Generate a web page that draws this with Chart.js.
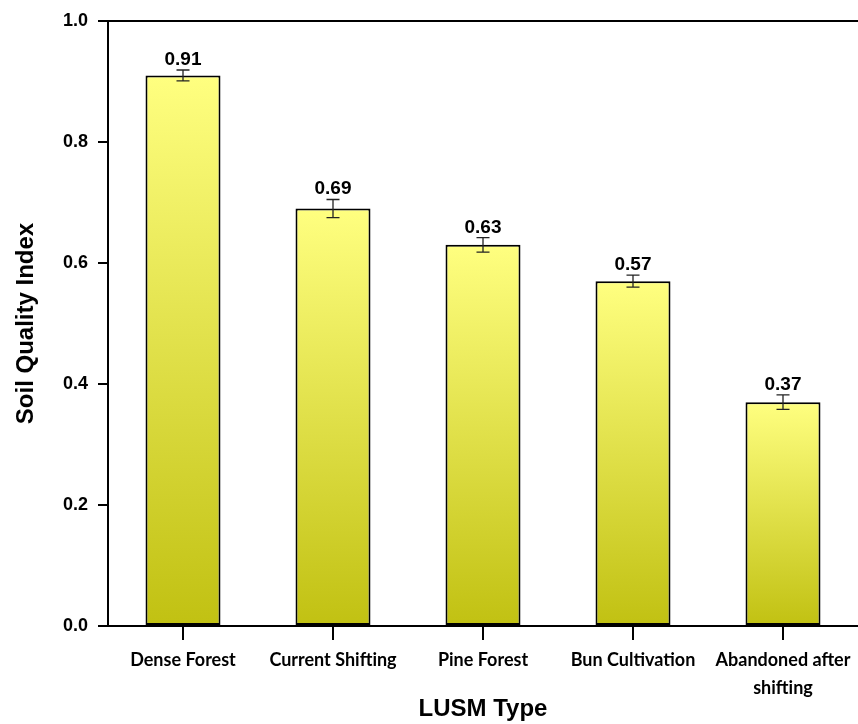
<!DOCTYPE html>
<html>
<head>
<meta charset="utf-8">
<script src="https://cdn.jsdelivr.net/npm/chart.js@4"></script>
<style>
html,body{margin:0;padding:0;background:#fff;}
#wrap{width:858px;height:724px;position:relative;}
</style>
</head>
<body>
<div id="wrap"><canvas id="c" width="858" height="724"></canvas></div>
<script>
const categories = ["Dense Forest", "Current Shifting", "Pine Forest", "Bun Cultivation", ["Abandoned after", "shifting"]];
const sqiValues = [0.91, 0.69, 0.63, 0.57, 0.37];
const sqiErrors = [0.009, 0.015, 0.012, 0.010, 0.012];
const valueLabels = ["0.91", "0.69", "0.63", "0.57", "0.37"];
const yTicks = [0.0, 0.2, 0.4, 0.6, 0.8, 1.0];

function barGradient(ctx) {
  const chart = ctx.chart;
  if (!chart.chartArea || !chart.scales.y) return '#E8E850';
  const y = chart.scales.y;
  const v = ctx.parsed ? ctx.parsed.y : sqiValues[ctx.dataIndex];
  const top = y.getPixelForValue(v);
  const bot = y.getPixelForValue(0);
  const g = chart.ctx.createLinearGradient(0, top, 0, bot);
  g.addColorStop(0, '#FFFF80');
  g.addColorStop(1, '#C1C112');
  return g;
}

const decorPlugin = {
  id: 'decor',
  afterDatasetsDraw(chart) {
    const ctx = chart.ctx;
    const y = chart.scales.y;
    const meta = chart.getDatasetMeta(0);
    ctx.save();
    ctx.strokeStyle = '#222';
    ctx.lineWidth = 1.3;
    meta.data.forEach((bar, i) => {
      const cx = bar.x;
      const hi = y.getPixelForValue(sqiValues[i] + sqiErrors[i]);
      const lo = y.getPixelForValue(sqiValues[i] - sqiErrors[i]);
      ctx.beginPath();
      ctx.moveTo(cx, hi); ctx.lineTo(cx, lo);
      ctx.moveTo(cx - 6.5, hi); ctx.lineTo(cx + 6.5, hi);
      ctx.moveTo(cx - 6.5, lo); ctx.lineTo(cx + 6.5, lo);
      ctx.stroke();
      ctx.fillStyle = '#000';
      ctx.font = 'bold 19px "Liberation Sans", Arial, sans-serif';
      ctx.textAlign = 'center';
      ctx.textBaseline = 'alphabetic';
      ctx.fillText(valueLabels[i], cx, hi - 5);
    });
    const a = chart.chartArea;
    ctx.strokeStyle = '#000';
    ctx.lineWidth = 2;
    ctx.beginPath();
    ctx.moveTo(a.left - 1, a.top);
    ctx.lineTo(a.right, a.top);
    ctx.stroke();
    ctx.restore();
  }
};

new Chart(document.getElementById('c'), {
  type: 'bar',
  data: {
    labels: categories,
    datasets: [{
      data: sqiValues,
      backgroundColor: barGradient,
      borderColor: '#000',
      borderWidth: 2,
      borderSkipped: false,
      barPercentage: 0.5,
      categoryPercentage: 1.0
    }]
  },
  options: {
    responsive: false,
    animation: false,
    devicePixelRatio: 1,
    layout: { padding: { top: 21, right: 0, bottom: 0, left: 12 } },
    plugins: { legend: { display: false }, tooltip: { enabled: false } },
    scales: {
      x: {
        grid: { display: true, offset: false, drawOnChartArea: false, drawTicks: true, tickLength: 14, color: '#000', lineWidth: 2 },
        border: { display: true, color: '#000', width: 2 },
        ticks: {
          color: '#000',
          padding: 6,
          maxRotation: 0,
          autoSkip: false,
          font: { family: 'Lato, "Open Sans", sans-serif', weight: 'bold', size: 18, lineHeight: 1.55 }
        },
        title: {
          display: true,
          text: 'LUSM Type',
          color: '#000',
          font: { family: '"Liberation Sans", Arial, sans-serif', weight: 'bold', size: 24 },
          padding: { top: 0, bottom: 0 }
        },
        afterFit(scale) { scale.height = 98; }
      },
      y: {
        min: 0, max: 1.0,
        afterBuildTicks(scale) { scale.ticks = yTicks.map(v => ({ value: v })); },
        grid: { display: true, drawOnChartArea: false, drawTicks: true, tickLength: 10, color: '#000', lineWidth: 2 },
        border: { display: true, color: '#000', width: 2 },
        ticks: {
          color: '#000',
          padding: 10,
          callback: (v) => Number(v).toFixed(1),
          font: { family: '"Liberation Sans", Arial, sans-serif', weight: 'bold', size: 18 }
        },
        title: {
          display: true,
          text: 'Soil Quality Index',
          color: '#000',
          font: { family: '"Liberation Sans", Arial, sans-serif', weight: 'bold', size: 24 },
          padding: { top: 0, bottom: 0 }
        },
        afterFit(scale) { scale.width = 96; }
      }
    }
  },
  plugins: [decorPlugin]
});
</script>
</body>
</html>
